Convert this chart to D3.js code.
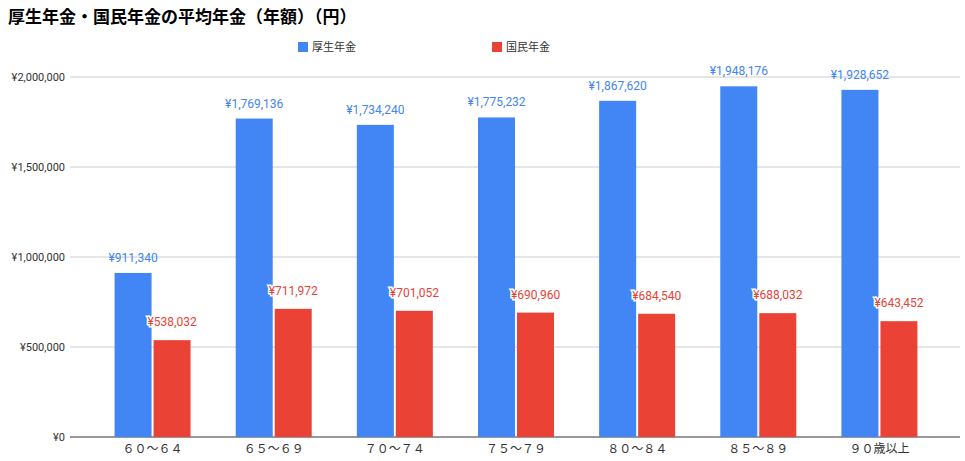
<!DOCTYPE html>
<html><head><meta charset="utf-8">
<script src="https://cdn.jsdelivr.net/npm/d3@7"></script>
<style>body{margin:0;background:#fff;font-family:Roboto,"Noto Sans CJK JP",sans-serif}</style>
</head><body><div id="chart"></div>
<script>
const categories = ["６０～６４", "６５～６９", "７０～７４", "７５～７９", "８０～８４", "８５～８９", "９０歳以上"];
const kosei = [911340, 1769136, 1734240, 1775232, 1867620, 1948176, 1928652];
const kokumin = [538032, 711972, 701052, 690960, 684540, 688032, 643452];
const seriesNames = ["厚生年金", "国民年金"];
const colors = ["#4285f4", "#ea4335"];
const yTicks = [0, 500000, 1000000, 1500000, 2000000];

const width = 965, height = 461;
const svg = d3.select("#chart").append("svg").attr("width", width).attr("height", height);
const fmt = d => "¥" + d3.format(",")(d);

const x = d3.scaleBand().domain(categories).range([92, 940]);
const y = d3.scaleLinear().domain([0, 2000000]).range([437, 77]);
const fontJP = "Roboto,'Noto Sans CJK JP',sans-serif";

svg.append("text").attr("x", 8).attr("y", 23).attr("font-size", 17).attr("font-weight", "bold")
  .attr("font-family", "'Noto Sans CJK JP',sans-serif").attr("fill", "#000")
  .text("厚生年金・国民年金の平均年金（年額）（円）");

// legend
[[298, 0], [492, 1]].forEach(([lx, i]) => {
  svg.append("rect").attr("x", lx).attr("y", 42).attr("width", 10).attr("height", 10).attr("fill", colors[i]);
  svg.append("text").attr("x", lx + 14).attr("y", 51).attr("font-size", 11).attr("fill", "#333")
    .attr("font-family", fontJP).text(seriesNames[i]);
});

// grid + y labels
svg.append("g").selectAll("line").data(yTicks).join("line")
  .attr("x1", 70).attr("x2", 960).attr("y1", d => y(d)).attr("y2", d => y(d))
  .attr("stroke", d => d === 0 ? "#333" : "#ccc").attr("stroke-width", 1);
svg.append("g").selectAll("text").data(yTicks).join("text")
  .attr("x", 65).attr("y", d => y(d) + 4).attr("text-anchor", "end")
  .attr("font-size", 11).attr("fill", "#333").attr("font-family", fontJP).text(fmt);

// x labels
svg.append("g").selectAll("text").data(categories).join("text")
  .attr("x", d => x(d) + x.bandwidth() / 2).attr("y", 453).attr("text-anchor", "middle")
  .attr("font-size", 12).attr("fill", "#333").attr("font-family", fontJP).text(d => d);

const bw = 37, gap = 2;
const cx = d => x(d) + x.bandwidth() / 2;
const series = [kosei, kokumin];
series.forEach((vals, s) => {
  const bx = d => s === 0 ? cx(d) - bw - gap / 2 : cx(d) + gap / 2;
  svg.append("g").selectAll("rect").data(categories).join("rect")
    .attr("x", bx).attr("width", bw)
    .attr("y", (d, i) => y(vals[i])).attr("height", (d, i) => y(0) - y(vals[i]))
    .attr("fill", colors[s]);
  svg.append("g").selectAll("text").data(categories).join("text")
    .attr("x", d => s === 0 ? bx(d) + bw / 2 : bx(d) - 6)
    .attr("y", (d, i) => y(vals[i]) - (s === 0 ? 11 : 14))
    .attr("text-anchor", s === 0 ? "middle" : "start")
    .attr("font-size", 12).attr("fill", colors[s]).attr("font-family", fontJP)
    .attr("stroke", s === 1 ? "#fff" : "none").attr("stroke-width", 3).attr("paint-order", "stroke")
    .text((d, i) => fmt(vals[i]));
});
</script></body></html>
